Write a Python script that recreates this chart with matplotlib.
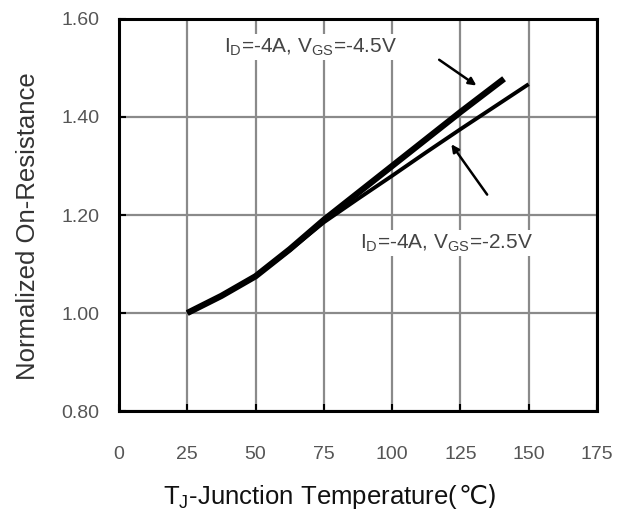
import matplotlib
matplotlib.use("Agg")
import matplotlib.pyplot as plt

# values
temp_45v = [25, 37.5, 50, 62.5, 75, 87.5, 100, 112.5, 125, 141]
rds_45v = [1.00, 1.035, 1.075, 1.13, 1.19, 1.245, 1.30, 1.355, 1.41, 1.478]
temp_25v = [25, 37.5, 50, 62.5, 75, 87.5, 100, 112.5, 125, 150]
rds_25v = [1.00, 1.035, 1.075, 1.128, 1.185, 1.233, 1.28, 1.328, 1.375, 1.467]

x_ticks = [0, 25, 50, 75, 100, 125, 150, 175]
y_ticks = [0.80, 1.00, 1.20, 1.40, 1.60]

label_45v = r"I$_\mathrm{D}$=-4A, V$_\mathrm{GS}$=-4.5V"
label_25v = r"I$_\mathrm{D}$=-4A, V$_\mathrm{GS}$=-2.5V"

plt.rcParams["font.family"] = ["Liberation Sans", "DejaVu Sans"]
plt.rcParams["mathtext.fontset"] = "custom"
plt.rcParams["mathtext.rm"] = "Liberation Sans"
plt.rcParams["mathtext.it"] = "Liberation Sans"

fig = plt.figure(figsize=(6.28, 5.23), dpi=100)
ax = fig.add_axes([0.1895, 0.2141, 0.761, 0.7496])

ax.plot(temp_45v, rds_45v, color="black", lw=4.5, solid_capstyle="butt", zorder=3)
ax.plot(temp_25v, rds_25v, color="black", lw=2.8, solid_capstyle="butt", zorder=3)

ax.set_xlim(0, 175)
ax.set_ylim(0.80, 1.60)
ax.set_xticks(x_ticks)
ax.set_yticks(y_ticks)
ax.set_yticklabels([f"{v:.2f}" for v in y_ticks])
ax.grid(True, color="#8a8a8a", lw=1.6, zorder=0)
ax.tick_params(direction="in", length=5, width=1.5, color="black",
               labelsize=14, labelcolor="#555555")
ax.tick_params(axis="x", pad=25)
ax.tick_params(axis="y", pad=14)
for s in ax.spines.values():
    s.set_linewidth(2.2)
    s.set_color("black")
    s.set_zorder(4)

# annotations with white boxes covering the grid
ax.text(70, 1.543, label_45v, ha="center", va="center", fontsize=15, color="#444444",
        bbox=dict(facecolor="white", edgecolor="none", pad=2), zorder=5)
ax.text(120, 1.143, label_25v, ha="center", va="center", fontsize=15, color="#444444",
        bbox=dict(facecolor="white", edgecolor="none", pad=2), zorder=5)
ax.annotate("", xy=(131.7, 1.461), xytext=(116.4, 1.520),
            arrowprops=dict(arrowstyle="-|>", color="black", lw=1.8, mutation_scale=11), zorder=5)
ax.annotate("", xy=(121.1, 1.349), xytext=(135.4, 1.237),
            arrowprops=dict(arrowstyle="-|>", color="black", lw=1.8, mutation_scale=11), zorder=5)

fig.text(0.044, 0.568, "Normalized On-Resistance", rotation=90, ha="center", va="center",
         fontsize=18.5, color="#333333")
# x label: subscript via mathtext, the ℃ piece in DejaVu Sans (Liberation lacks it)
split_x = 0.73
fig.text(split_x, 0.05, r"T$_\mathrm{J}$-Junction Temperature(", ha="right", va="center",
         fontsize=18.5, color="#111111")
fig.text(split_x, 0.05, "℃)", ha="left", va="center", fontsize=18.5,
         color="#111111", family=["DejaVu Sans"])

fig.savefig("out.png", dpi=100)
